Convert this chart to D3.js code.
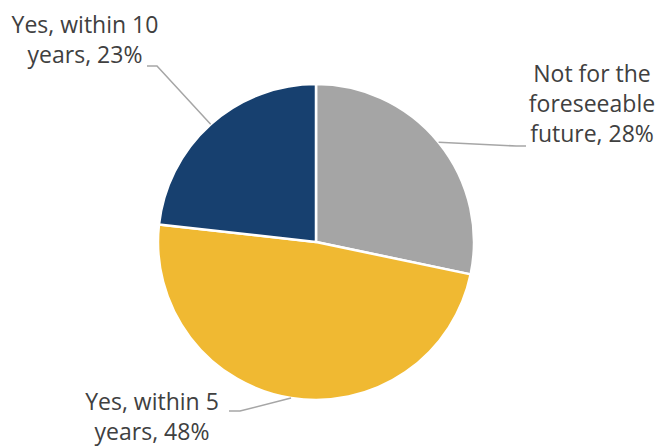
<!DOCTYPE html>
<html>
<head>
<meta charset="utf-8">
<script src="https://cdn.jsdelivr.net/npm/d3@7"></script>
<style>
  body { margin: 0; background: #fff; }
  text { font-family: "Open Sans", "Liberation Sans", sans-serif; fill: #404040; }
</style>
</head>
<body>
<div class="chart"></div>
<script>
var svgWidth = 659;
var svgHeight = 447;

// data
var categories = ["Not for the foreseeable future", "Yes, within 5 years", "Yes, within 10 years"];
var values = [28, 48, 23];
var labelLines = [
  ["Not for the", "foreseeable", "future, 28%"],
  ["Yes, within 5", "years, 48%"],
  ["Yes, within 10", "years, 23%"]
];
var colors = ["#A5A5A5", "#F0B932", "#17406F"];

// layout for labels: text anchor centre, first baseline, leader elbow
var labelLayout = [
  { x: 592, y: 82, elbow: [516, 146], end: [526, 146] },
  { x: 152, y: 410, elbow: [240, 411], end: [229, 411] },
  { x: 85, y: 33, elbow: [157, 66], end: [147, 66] }
];
var lineGap = 30;

var cx = 316, cy = 242, radius = 158;

var svg = d3.select(".chart")
  .append("svg")
  .attr("width", svgWidth)
  .attr("height", svgHeight);

var pieGroup = svg.append("g")
  .attr("transform", `translate(${cx}, ${cy})`);

var pie = d3.pie().sort(null).value(d => d);
var arcs = pie(values);

var arc = d3.arc().innerRadius(0).outerRadius(radius);
var edgeArc = d3.arc().innerRadius(radius).outerRadius(radius);

pieGroup.selectAll("path")
  .data(arcs)
  .enter()
  .append("path")
  .attr("d", arc)
  .attr("fill", (d, i) => colors[i])
  .attr("stroke", "#fff")
  .attr("stroke-width", 2.5)
  .attr("stroke-linejoin", "round");

// leader lines
arcs.forEach(function(d, i) {
  var p = edgeArc.centroid(d);
  var L = labelLayout[i];
  var pts = [[cx + p[0], cy + p[1]], L.elbow, L.end];
  svg.append("path")
    .attr("d", d3.line()(pts))
    .attr("fill", "none")
    .attr("stroke", "#A6A6A6")
    .attr("stroke-width", 1.5);
});

// labels
labelLines.forEach(function(lines, i) {
  var L = labelLayout[i];
  var t = svg.append("text")
    .attr("text-anchor", "middle")
    .attr("font-size", 23);
  lines.forEach(function(s, j) {
    t.append("tspan")
      .attr("x", L.x)
      .attr("y", L.y + j * lineGap)
      .text(s);
  });
});
</script>
</body>
</html>
